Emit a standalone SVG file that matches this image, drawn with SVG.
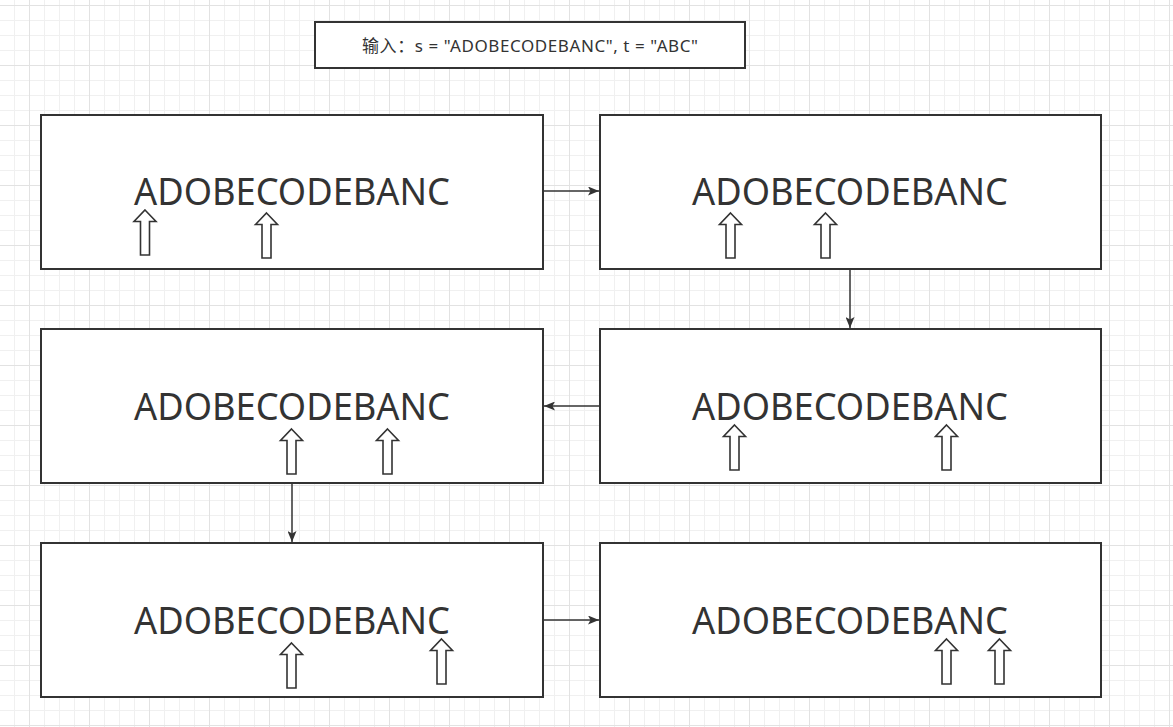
<svg xmlns="http://www.w3.org/2000/svg" width="1173" height="727" viewBox="0 0 1173 727">
<defs>
<pattern id="grid" x="29" y="5" width="60" height="60" patternUnits="userSpaceOnUse">
<path d="M15.5 0V60M30.5 0V60M45.5 0V60M0 15.5H60M0 30.5H60M0 45.5H60" stroke="#f0f0f0" stroke-width="1" fill="none"/>
<path d="M0.5 0V60M0 0.5H60" stroke="#e2e2e2" stroke-width="1" fill="none"/>
</pattern>
<marker id="ah" markerWidth="11" markerHeight="9" refX="11" refY="4.5" orient="auto" markerUnits="userSpaceOnUse">
<path d="M0 0L11 4.5L0 9L2.5 4.5Z" fill="#333"/>
</marker>
<path id="up" d="M0 0L11 11.5H4.5V45H-4.5V11.5H-11Z"/>
</defs>
<style>
.box{fill:#fff;stroke:#333;stroke-width:2}
.big{font-family:"Noto Sans","Open Sans","Noto Sans CJK SC",sans-serif;font-size:38px;fill:#333;text-anchor:middle}
.title{font-family:"Noto Sans","Noto Sans CJK SC",sans-serif;font-size:17px;fill:#333;text-anchor:middle}
.ptr{fill:#fff;stroke:#333;stroke-width:1.6;stroke-linejoin:miter}
.conn{stroke:#333;stroke-width:1.5;fill:none;marker-end:url(#ah)}
</style>
<rect width="1173" height="727" fill="#fff"/>
<rect width="1173" height="727" fill="url(#grid)"/>
<g id="title">
<rect class="box" x="315" y="22" width="430" height="46"/>
<text class="title" x="530" y="52" textLength="336" lengthAdjust="spacing">输入：s = "ADOBECODEBANC", t = "ABC"</text>
</g>
<g id="connectors">
<path class="conn" d="M543 191H599"/>
<path class="conn" d="M850 269V328"/>
<path class="conn" d="M600 406H544"/>
<path class="conn" d="M292 483V542"/>
<path class="conn" d="M543 620H599"/>
</g>
<g id="node1">
<rect class="box" x="41" y="115" width="502" height="154"/>
<text class="big" x="292" y="205" textLength="316" lengthAdjust="spacingAndGlyphs">ADOBECODEBANC</text>
<use href="#up" class="ptr" x="145" y="210"/>
<use href="#up" class="ptr" x="266.5" y="213"/>
</g>
<g id="node2">
<rect class="box" x="600" y="115" width="501" height="154"/>
<text class="big" x="850" y="205" textLength="316" lengthAdjust="spacingAndGlyphs">ADOBECODEBANC</text>
<use href="#up" class="ptr" x="730.5" y="213"/>
<use href="#up" class="ptr" x="825.5" y="213"/>
</g>
<g id="node3">
<rect class="box" x="600" y="329" width="501" height="154"/>
<text class="big" x="850" y="420" textLength="316" lengthAdjust="spacingAndGlyphs">ADOBECODEBANC</text>
<use href="#up" class="ptr" x="734.5" y="425"/>
<use href="#up" class="ptr" x="946.5" y="425"/>
</g>
<g id="node4">
<rect class="box" x="41" y="329" width="502" height="154"/>
<text class="big" x="292" y="420" textLength="316" lengthAdjust="spacingAndGlyphs">ADOBECODEBANC</text>
<use href="#up" class="ptr" x="291.5" y="429"/>
<use href="#up" class="ptr" x="387.5" y="429"/>
</g>
<g id="node5">
<rect class="box" x="41" y="543" width="502" height="154"/>
<text class="big" x="292" y="634" textLength="316" lengthAdjust="spacingAndGlyphs">ADOBECODEBANC</text>
<use href="#up" class="ptr" x="291.5" y="643"/>
<use href="#up" class="ptr" x="441.5" y="639"/>
</g>
<g id="node6">
<rect class="box" x="600" y="543" width="501" height="154"/>
<text class="big" x="850" y="634" textLength="316" lengthAdjust="spacingAndGlyphs">ADOBECODEBANC</text>
<use href="#up" class="ptr" x="946.5" y="639"/>
<use href="#up" class="ptr" x="999.5" y="639"/>
</g>
</svg>
